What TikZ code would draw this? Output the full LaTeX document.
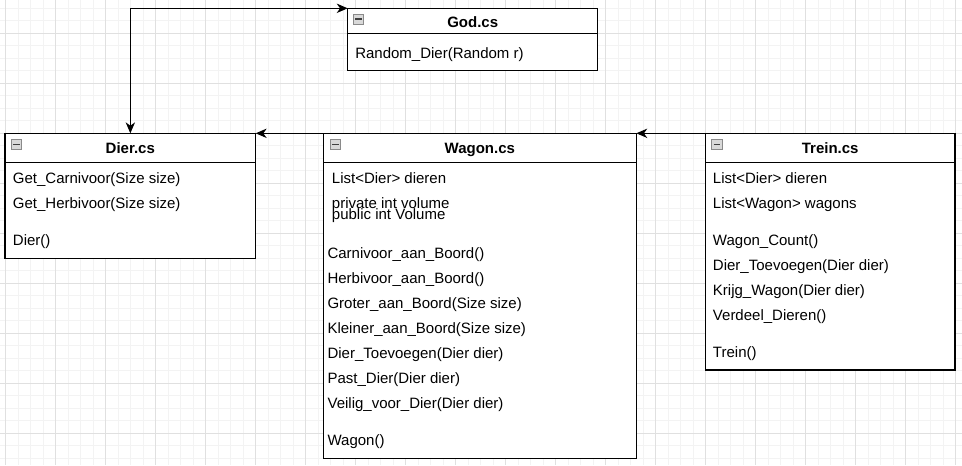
\documentclass[tikz,border=0pt]{standalone}
\usepackage{fontspec}
\setmainfont{Liberation Sans}
\usetikzlibrary{arrows.meta}
\definecolor{gridmajor}{HTML}{E0E0E0}
\definecolor{gridminor}{HTML}{F3F3F3}
\definecolor{iconfill}{HTML}{D9D9D9}
\definecolor{iconline}{HTML}{8A8A8A}
\begin{document}
\begin{tikzpicture}[x=0.75pt,y=-0.75pt,
  >={Stealth[length=8.2pt,width=7pt,inset=2.5pt]},
  classbox/.style={draw=black, line width=0.9pt, fill=white, inner sep=0pt, outer sep=0pt, anchor=north west},
  divider/.style={draw=black, line width=0.9pt},
  titletext/.style={font=\bfseries\fontsize{11.25}{13.5}\selectfont, inner sep=0pt, anchor=base},
  member/.style={font=\fontsize{11.25}{13.5}\selectfont, inner sep=0pt, anchor=base west},
  conn/.style={draw=black, line width=0.8pt},
  iconbox/.style={draw=iconline, fill=iconfill, line width=0.5pt, inner sep=0pt, outer sep=0pt,
    minimum size=7.8pt, anchor=north west,
    path picture={\draw[line width=1.1pt, black!75]
      ([xshift=1.4pt]path picture bounding box.west) -- ([xshift=-1.4pt]path picture bounding box.east);}},
  gminor/.style={draw=gridminor, line width=0.75pt},
  gmajor/.style={draw=gridmajor, line width=0.75pt}
]
\useasboundingbox (0,0) rectangle (962,465);
% background grid
\begin{scope}
\clip (0,0) rectangle (962,465);
\fill[white] (0,0) rectangle (962,465);
\foreach \i in {0,...,78} \draw[gminor] ({-6.83+12.5*\i},0) -- ++(0,465);
\foreach \j in {0,...,38} \draw[gminor] (0,{-4.17+12.5*\j}) -- ++(962,0);
\foreach \i in {0,...,19} \draw[gmajor] ({5.67+50*\i},0) -- ++(0,465);
\foreach \j in {0,...,10} \draw[gmajor] (0,{-16.67+50*\j}) -- ++(962,0);
\end{scope}

% ---------- God.cs ----------
\node[classbox, minimum width=250*0.75pt, minimum height=62.4*0.75pt] (god) at (347.7,8.3) {};
\draw[divider] (god.north west) ++(0,25) -- ++(250,0);
\node[iconbox] (godicon) at (353.3,14) {};
\node[titletext] (godtitle) at (472.7,27.3) {God.cs};
\node[member] (god1) at (355,58.3) {Random\_Dier(Random r)};

% ---------- Dier.cs ----------
\node[classbox, minimum width=250.7*0.75pt, minimum height=125*0.75pt] (dier) at (5,133.3) {};
\draw[divider] (dier.north west) ++(0,29) -- ++(250.7,0);
\node[iconbox] (diericon) at (11,139.3) {};
\node[titletext] (diertitle) at (130.3,153.3) {Dier.cs};
\node[member] (dier1) at (12.7,183.4) {Get\_Carnivoor(Size size)};
\node[member] (dier2) at (12.7,208.4) {Get\_Herbivoor(Size size)};
\node[member] (dier3) at (12.7,245.4) {Dier()};

% ---------- Wagon.cs ----------
\node[classbox, minimum width=313*0.75pt, minimum height=325*0.75pt] (wagon) at (323.3,133.3) {};
\draw[divider] (wagon.north west) ++(0,29) -- ++(313,0);
\node[iconbox] (wagonicon) at (330,139.3) {};
\node[titletext] (wagontitle) at (479.8,153.3) {Wagon.cs};
\node[member] (wagon1) at (331.7,183.3) {List<Dier> dieren};
\node[member] (wagon2) at (331.7,208) {private int volume};
\node[member] (wagon3) at (331.7,219.7) {public int Volume};
\node[member] (wagon4) at (327.3,258.7) {Carnivoor\_aan\_Boord()};
\node[member] (wagon5) at (327.3,283.7) {Herbivoor\_aan\_Boord()};
\node[member] (wagon6) at (327.3,308.7) {Groter\_aan\_Boord(Size size)};
\node[member] (wagon7) at (327.3,333.7) {Kleiner\_aan\_Boord(Size size)};
\node[member] (wagon8) at (327.3,358.7) {Dier\_Toevoegen(Dier dier)};
\node[member] (wagon9) at (327.3,383.4) {Past\_Dier(Dier dier)};
\node[member] (wagon10) at (327.3,408.4) {Veilig\_voor\_Dier(Dier dier)};
\node[member] (wagon11) at (327.3,445.4) {Wagon()};

% ---------- Trein.cs ----------
\node[classbox, minimum width=249.7*0.75pt, minimum height=236.7*0.75pt] (trein) at (705.3,133.3) {};
\draw[divider] (trein.north west) ++(0,29) -- ++(249.7,0);
\node[iconbox] (treinicon) at (711.7,139.3) {};
\node[titletext] (treintitle) at (830.2,153.3) {Trein.cs};
\node[member] (trein1) at (712.7,183.4) {List<Dier> dieren};
\node[member] (trein2) at (712.7,208.4) {List<Wagon> wagons};
\node[member] (trein3) at (712.7,245.4) {Wagon\_Count()};
\node[member] (trein4) at (712.7,270.4) {Dier\_Toevoegen(Dier dier)};
\node[member] (trein5) at (712.7,295.4) {Krijg\_Wagon(Dier dier)};
\node[member] (trein6) at (712.7,320.4) {Verdeel\_Dieren()};
\node[member] (trein7) at (712.7,357.4) {Trein()};

% ---------- connectors ----------
\draw[conn,->] (trein.north west) -- (wagon.north east);
\draw[conn,->] (wagon.north west) -- (dier.north east);
\draw[conn,<->] (dier.north) |- (god.north west);
\end{tikzpicture}
\end{document}
